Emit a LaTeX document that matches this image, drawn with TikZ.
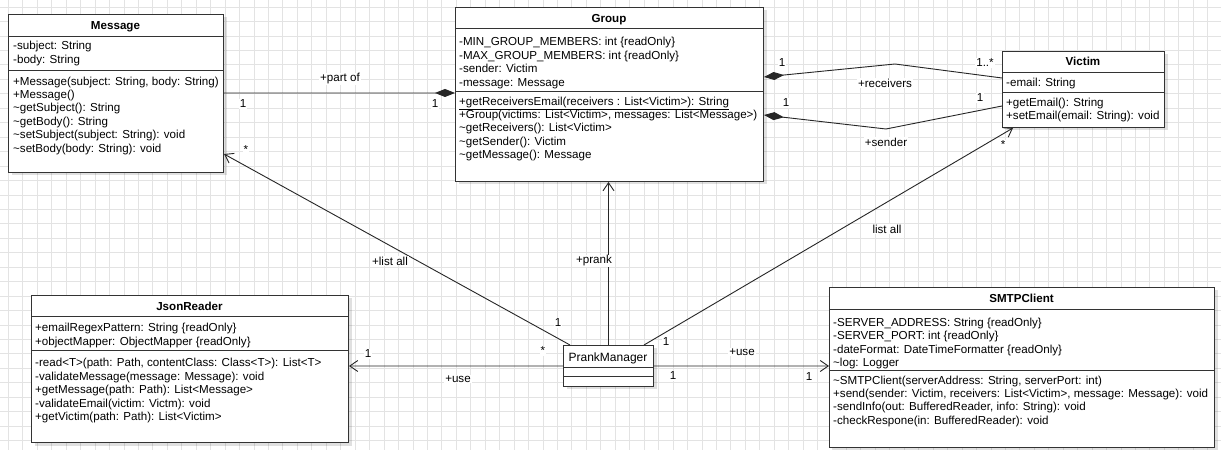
\documentclass[tikz,border=0pt]{standalone}
\usepackage{fontspec}
\setmainfont{Liberation Sans}
\usetikzlibrary{arrows.meta,shadows}

\begin{document}
\begin{tikzpicture}[x = 1bp, y = -1bp,
    every node/.style = {font = \fontsize{11.6bp}{13.4bp}\selectfont},
    classbox/.style = {rectangle, draw = black!80, line width = 1bp, fill = white, anchor = north west, inner sep = 0pt,
        drop shadow = {shadow xshift = 3bp, shadow yshift = -3bp, opacity = .12, fill = black}},
    title/.style = {anchor = base, inner sep = 0pt, font = \fontsize{11.6bp}{13.4bp}\selectfont\bfseries},
    members/.style = {anchor = north west, align = left, inner sep = 0pt},
    sep/.style = {draw = black!80, line width = 1bp},
    assoc/.style = {draw = black!85, line width = 0.9bp},
    comp/.style = {assoc, -{Diamond[length = 20bp, width = 8bp]}},
    nav/.style = {assoc, -{Straight Barb[length = 8bp, width = 11bp, line width = 0.9bp]}},
    lbl/.style = {fill = white, inner sep = 1bp},
    gridline/.style = {draw = black!11, line width = 0.8bp}
]
    \useasboundingbox (0,0) rectangle (1221,450);
    \fill[white] (0,0) rectangle (1221,450);
    % background grid
    \foreach \i in {0,...,83} \draw[gridline] ({8.3 + 14.45*\i}, 0) -- ++(0, 450);
    \foreach \j in {0,...,30} \draw[gridline] (0, {7.1 + 14.45*\j}) -- ++(1221, 0);

    % classes
    \node[classbox, minimum width = 215bp, minimum height = 158bp] (message) at (8,14) {};
    \draw[sep] (8,37) -- (223,37) (8,71) -- (223,71);
    \node[title] (messageTitle) at (115.5,29.7) {Message};
    \node[members] (messageAttr) at (13,40.7) {\rule{0pt}{9bp}-subject: String\\-body: String};
    \node[members] (messageOps) at (13,76) {\rule{0pt}{9bp}+Message(subject: String, body: String)\\+Message()\\
        \textasciitilde getSubject(): String\\\textasciitilde getBody(): String\\
        \textasciitilde setSubject(subject: String): void\\\textasciitilde setBody(body: String): void};

    \node[classbox, minimum width = 308bp, minimum height = 174bp] (group) at (455,7) {};
    \draw[sep] (455,29) -- (763,29) (455,92) -- (763,92);
    \node[title] (groupTitle) at (609,23) {Group};
    \node[members] (groupAttr) at (459,36.7) {\rule{0pt}{9bp}-MIN\_GROUP\_MEMBERS: int \{readOnly\}\\
        -MAX\_GROUP\_MEMBERS: int \{readOnly\}\\-sender: Victim\\-message: Message};
    \node[members] (groupOps) at (459,96) {\rule{0pt}{9bp}\underline{+getReceiversEmail(receivers : List<Victim>): String}\\
        +Group(victims: List<Victim>, messages: List<Message>)\\\textasciitilde getReceivers(): List<Victim>\\
        \textasciitilde getSender(): Victim\\\textasciitilde getMessage(): Message};

    \node[classbox, minimum width = 162bp, minimum height = 76bp] (victim) at (1002,51) {};
    \draw[sep] (1002,73) -- (1164,73) (1002,93) -- (1164,93);
    \node[title] (victimTitle) at (1083,65.7) {Victim};
    \node[members] (victimAttr) at (1006,77.3) {\rule{0pt}{9bp}-email: String};
    \node[members] (victimOps) at (1006,97.3) {\rule{0pt}{9bp}+getEmail(): String\\+setEmail(email: String): void};

    \node[classbox, minimum width = 317bp, minimum height = 147bp] (jsonReader) at (31,295) {};
    \draw[sep] (31,317) -- (348,317) (31,351) -- (348,351);
    \node[title] (jsonTitle) at (189.5,311) {JsonReader};
    \node[members] (jsonAttr) at (35,322.7) {\rule{0pt}{9bp}+emailRegexPattern: String \{readOnly\}\\
        +objectMapper: ObjectMapper \{readOnly\}};
    \node[members] (jsonOps) at (35,357.7) {\rule{0pt}{9bp}-read<T>(path: Path, contentClass: Class<T>): List<T>\\
        -validateMessage(message: Message): void\\+getMessage(path: Path): List<Message>\\
        -validateEmail(victim: Victm): void\\+getVictim(path: Path): List<Victim>};

    \node[classbox, minimum width = 385bp, minimum height = 160bp] (smtp) at (829,287) {};
    \draw[sep] (829,310) -- (1214,310) (829,371) -- (1214,371);
    \node[title] (smtpTitle) at (1021.5,303) {SMTPClient};
    \node[members] (smtpAttr) at (833,317.3) {\rule{0pt}{9bp}-SERVER\_ADDRESS: String \{readOnly\}\\
        -SERVER\_PORT: int \{readOnly\}\\-dateFormat: DateTimeFormatter \{readOnly\}\\\textasciitilde log: Logger};
    \node[members] (smtpOps) at (833,375) {\rule{0pt}{9bp}\textasciitilde SMTPClient(serverAddress: String, serverPort: int)\\
        +send(sender: Victim, receivers: List<Victim>, message: Message): void\\
        -sendInfo(out: BufferedReader, info: String): void\\-checkRespone(in: BufferedReader): void};

    \node[classbox, minimum width = 90bp, minimum height = 41bp] (prank) at (563,345) {};
    \draw[sep] (563,368) -- (653,368) (563,377) -- (653,377);
    \node[anchor = base, inner sep = 0pt, font = \fontsize{12bp}{14bp}\selectfont] (prankTitle) at (608,361.3) {PrankManager};

    % associations
    \draw[comp] ([yshift = -79bp]message.north east) -- ([yshift = -86bp]group.north west);
    \node[lbl] (partOf) at (340,79) {+part of};
    \node[lbl] (partOfA) at (243,104) {1};
    \node[lbl] (partOfB) at (435,104) {1};

    \coordinate (rcvBend) at (895,64);
    \draw[comp] ([yshift = -27bp]victim.north west) -- (rcvBend) -- ([yshift = -70bp]group.north east);
    \node[lbl] (rcv) at (885,83) {+receivers};
    \node[lbl] (rcvA) at (782,63) {1};
    \node[lbl] (rcvB) at (985,63) {1..*};

    \coordinate (sndBend) at (886,129);
    \draw[comp] ([yshift = -55bp]victim.north west) -- (sndBend) -- ([yshift = -108bp]group.north east);
    \node[lbl] (snd) at (886,142) {+sender};
    \node[lbl] (sndA) at (786,103) {1};
    \node[lbl] (sndB) at (980,98) {1};

    \draw[nav] ([xshift = 7bp]prank.north west) -- ([yshift = -140bp]message.north east);
    \node[lbl] (listMsg) at (390,261) {+list all};
    \node[lbl] (listMsgA) at (246,150) {*};
    \node[lbl] (listMsgB) at (558,323) {1};

    \draw[nav] (prank.north) -- (prank.north |- group.south);
    \node[lbl] (prankUse) at (594,261) {+prank};

    \draw[nav] ([xshift = -10bp]prank.north east) -- ([xshift = 11bp]victim.south west);
    \node[lbl] (listVic) at (887,229) {list all};
    \node[lbl] (listVicA) at (1003,145) {*};
    \node[lbl] (listVicB) at (666,342) {1};

    \draw[nav] ([yshift = -21bp]prank.north west) -- ([yshift = -71bp]jsonReader.north east);
    \node[lbl] (useJson) at (458,379) {+use};
    \node[lbl] (useJsonA) at (368,354) {1};
    \node[lbl] (useJsonB) at (543,351) {*};

    \draw[nav] ([yshift = -21bp]prank.north east) -- ([yshift = -79bp]smtp.north west);
    \node[lbl] (useSmtp) at (742,352) {+use};
    \node[lbl] (useSmtpA) at (673,376) {1};
    \node[lbl] (useSmtpB) at (809,377) {1};
\end{tikzpicture}
\end{document}
